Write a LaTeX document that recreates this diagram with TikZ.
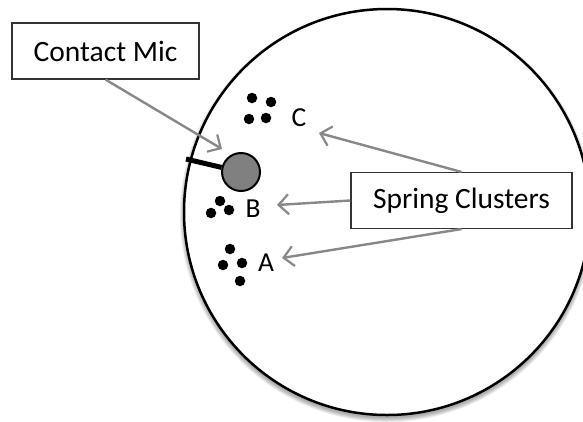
\documentclass[tikz,border=0pt]{standalone}
\usepackage{fontspec}
\setmainfont{Carlito}
\usetikzlibrary{arrows.meta}
\definecolor{arrowgray}{HTML}{888888}
\definecolor{micgray}{HTML}{808080}
\begin{document}
\begin{tikzpicture}[x=1pt,y=-1pt,
  labelbox/.style={draw=black!80, line width=1.1pt, fill=white, inner sep=0pt,
    minimum height=56pt, font=\fontsize{29.5}{34}\selectfont},
  pointer/.style={draw=arrowgray, line width=2.4pt,
    -{Straight Barb[length=10pt,width=20pt,line width=2.2pt]}},
  spring/.style={circle, fill=black, inner sep=0pt, minimum size=10.5pt},
  tag/.style={inner sep=0pt, font=\fontsize{27.5}{32}\selectfont}]
\useasboundingbox (0,0) rectangle (583,421);
\clip (0,0) rectangle (583,421);
\fill[white] (0,0) rectangle (583,421);

% soft shadow under the plate
\foreach \k in {0,...,6}
  \fill[black, opacity=0.05] (387,215) circle[radius={203pt+0.7pt*\k}];
% the plate
\draw[line width=2.5pt, fill=white] (387,212) circle[radius=203pt];

% spring clusters
\node[spring] (c1) at (252,98) {};
\node[spring] (c2) at (271,102) {};
\node[spring] (c3) at (249,119) {};
\node[spring] (c4) at (266,118) {};
\node[tag] (lc) at (299,118) {C};

\node[spring] (b1) at (220,201) {};
\node[spring] (b2) at (229,210) {};
\node[spring] (b3) at (211,213) {};
\node[tag] (lb) at (253,209) {B};

\node[spring] (a1) at (230,249) {};
\node[spring] (a2) at (223,265) {};
\node[spring] (a3) at (242,263) {};
\node[spring] (a4) at (240,281) {};
\node[tag] (la) at (266,263) {A};

% contact microphone
\coordinate (cable) at (186,159);
\node[circle, draw=black, line width=2pt, fill=micgray, minimum size=38pt, inner sep=0pt] (micbody) at (241,172) {};
\draw[line width=5pt] (cable) -- (micbody);

% callout boxes
\node[labelbox, minimum width=187pt] (mic) at (105.5,51) {Contact Mic};
\node[labelbox, minimum width=221pt] (springs) at (461.5,200.5) {Spring Clusters};

% pointers
\coordinate (micpt) at (222,149);
\coordinate (cpt) at (319,133);
\coordinate (bpt) at (277,205);
\coordinate (apt) at (282,258);
\draw[pointer] (mic.south) -- (micpt);
\draw[pointer] (springs.north) -- (cpt);
\draw[pointer] (springs.west) -- (bpt);
\draw[pointer] (springs.south) -- (apt);
\end{tikzpicture}
\end{document}
